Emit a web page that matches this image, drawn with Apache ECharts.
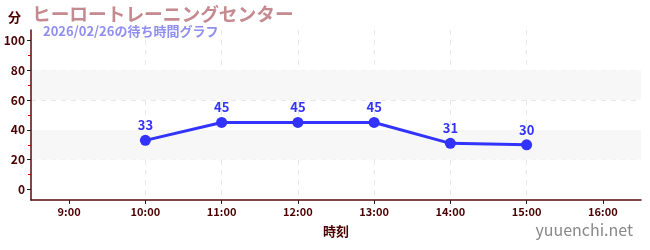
<!DOCTYPE html>
<html>
<head>
<meta charset="utf-8">
<script src="https://cdn.jsdelivr.net/npm/echarts@6/dist/echarts.min.js"></script>
<style>html,body{margin:0;padding:0;background:#fff}#c{width:650px;height:250px}</style>
</head>
<body>
<div id="c"></div>
<script>
const titleText = 'ヒーロートレーニングセンター';
const subtitleText = '2026/02/26の待ち時間グラフ';
const hours = [10, 11, 12, 13, 14, 15];
const waits = [33, 45, 45, 45, 31, 30];
const xTicks = [9, 10, 11, 12, 13, 14, 15, 16];
const yTicks = [0, 20, 40, 60, 80, 100];
const yMinorTicks = [10, 30, 50, 70, 90];
const bands = [[20, 40], [60, 80]];

const font = '"Noto Sans CJK JP", "Noto Sans", sans-serif';
const axisColor = '#5a0a0a';
const chart = echarts.init(document.getElementById('c'));
chart.setOption({
  animation: false,
  textStyle: { fontFamily: font },
  title: [
    { text: titleText, left: 27, top: 0, textStyle: { color: '#c48a8f', fontSize: 18.7, fontWeight: 'bold', fontFamily: font } },
    { text: subtitleText, left: 38, top: 20, textStyle: { color: '#8f8ff0', fontSize: 13, fontWeight: 'bold', fontFamily: font } },
    { text: 'yuuenchi.net', right: 12, bottom: 7, textStyle: { color: '#888', fontSize: 16, fontWeight: 'normal', fontFamily: font } }
  ],
  grid: { left: 31, right: 9, top: 30, bottom: 50 },
  xAxis: {
    type: 'value', min: 8.5, max: 16.5, z: 1,
    name: '時刻', nameLocation: 'middle', nameGap: 25,
    nameTextStyle: { color: '#4a0000', fontSize: 13, fontWeight: 'bold', fontFamily: font },
    axisLine: { show: true, onZero: false, lineStyle: { color: axisColor, width: 1.5 } },
    axisTick: { show: true, length: 4, customValues: xTicks, lineStyle: { color: '#222' } },
    axisLabel: { customValues: xTicks, color: '#4a0000', fontSize: 11, fontWeight: 'bold', margin: 6, formatter: v => v + ':00' },
    splitLine: { show: true, showMinLine: false, showMaxLine: false, lineStyle: { color: '#e8e8e8', type: [5, 5] } }
  },
  yAxis: [{
    type: 'value', min: -7, max: 107, z: 1,
    name: '分', nameLocation: 'end', nameGap: 6,
    nameTextStyle: { color: '#4a0000', fontSize: 13, fontWeight: 'bold', align: 'right', padding: [0, 10, 0, 0], fontFamily: font },
    axisLine: { show: true, lineStyle: { color: axisColor, width: 1.5 } },
    axisTick: { show: true, length: 4, customValues: yTicks, lineStyle: { color: '#222' } },
    axisLabel: { customValues: yTicks, color: '#4a0000', fontSize: 12, fontWeight: 'bold', margin: 6 },
    splitLine: { show: true, showMinLine: false, showMaxLine: false, lineStyle: { color: '#e8e8e8', type: [5, 5] } }
  }, {
    type: 'value', min: -7, max: 107, position: 'left', z: 0,
    axisLine: { show: false },
    axisTick: { show: true, length: 3, customValues: yMinorTicks, lineStyle: { color: '#e00000' } },
    axisLabel: { show: false },
    splitLine: { show: false }
  }],
  series: [{
    type: 'line',
    data: hours.map((h, i) => [h, waits[i]]),
    color: '#3333ff',
    lineStyle: { width: 3, color: '#3333ff' },
    symbol: 'circle', symbolSize: 11,
    itemStyle: { color: '#3333ff' },
    label: { show: true, position: 'top', distance: 3, color: '#3333ff', fontSize: 13, fontWeight: 'bold', fontFamily: font },
    z: 3
  }, {
    type: 'line', data: [], z: 0, silent: true,
    markArea: {
      silent: true,
      itemStyle: { color: '#f7f7f7' },
      data: bands.map(b => [{ yAxis: b[0] }, { yAxis: b[1] }])
    }
  }]
});
</script>
</body>
</html>
